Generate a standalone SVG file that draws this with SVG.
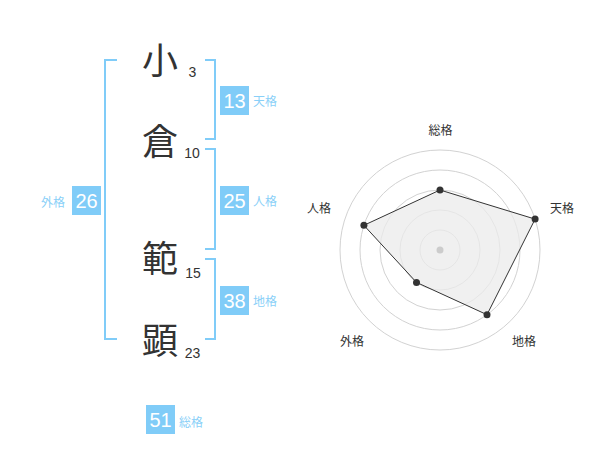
<svg xmlns="http://www.w3.org/2000/svg" width="600" height="470" viewBox="0 0 600 470">
<style>
.ch{font-family:"Noto Sans CJK JP","Noto Sans CJK SC",sans-serif;font-size:36px;fill:#333;text-anchor:middle}
.num{font-family:"Liberation Sans",Arial,sans-serif;font-size:14px;fill:#333;text-anchor:middle}
.br{fill:none;stroke:#80ccf8;stroke-width:2}
.box{fill:#80ccf8}
.bn{font-family:"Liberation Sans",Arial,sans-serif;font-size:20px;fill:#fff;text-anchor:middle}
.lb{font-family:"Noto Sans CJK JP","Noto Sans CJK SC",sans-serif;font-size:12px;fill:#8ad0f8}
.rl{font-family:"Noto Sans CJK JP","Noto Sans CJK SC",sans-serif;font-size:12px;fill:#333;text-anchor:middle}
.ring{fill:none;stroke:#d2d2d2;stroke-width:1}
.pt{fill:#333}
</style>
<rect width="600" height="470" fill="#fff"/>
<g id="chars">
<g id="c1"><text class="ch" x="160" y="74">小</text><text class="num" x="192.5" y="77">3</text></g>
<g id="c2"><text class="ch" x="160" y="155">倉</text><text class="num" x="192" y="158">10</text></g>
<g id="c3"><text class="ch" x="160" y="272">範</text><text class="num" x="193" y="278">15</text></g>
<g id="c4"><text class="ch" x="160" y="354">顕</text><text class="num" x="192.5" y="358">23</text></g>
</g>
<g id="connectors">
<path class="br" d="M117,60 H105 V339 H117"/>
<path class="br" d="M205,60 H215 V139 H205"/>
<path class="br" d="M205,149 H215 V249 H205"/>
<path class="br" d="M205,259 H215 V339 H205"/>
</g>
<g id="tenkaku"><rect class="box" x="220" y="86" width="29" height="29"/><text class="bn" x="234.5" y="108">13</text><text class="lb" x="253" y="106">天格</text></g>
<g id="jinkaku"><rect class="box" x="220" y="186" width="29" height="29"/><text class="bn" x="234.5" y="208">25</text><text class="lb" x="253" y="206">人格</text></g>
<g id="chikaku"><rect class="box" x="220" y="286" width="29" height="29"/><text class="bn" x="234.5" y="308">38</text><text class="lb" x="253" y="306">地格</text></g>
<g id="gaikaku"><rect class="box" x="72" y="186" width="29" height="29"/><text class="bn" x="86.5" y="208">26</text><text class="lb" x="65" y="207" text-anchor="end">外格</text></g>
<g id="soukaku"><rect class="box" x="146" y="405" width="29" height="29"/><text class="bn" x="160.5" y="427">51</text><text class="lb" x="179" y="427">総格</text></g>
<g id="radar">
<circle class="ring" cx="440" cy="250" r="20"/>
<circle class="ring" cx="440" cy="250" r="40"/>
<circle class="ring" cx="440" cy="250" r="60"/>
<circle class="ring" cx="440" cy="250" r="80"/>
<circle class="ring" cx="440" cy="250" r="100"/>
<polygon points="440,190 535.1,219.1 487,314.7 416.5,282.4 363.9,225.3" fill="#ebebeb" fill-opacity="0.75" stroke="#333" stroke-width="1"/>
<circle cx="440" cy="250" r="3.5" fill="#ccc"/>
<circle class="pt" cx="440" cy="190" r="3.5"/>
<circle class="pt" cx="535.1" cy="219.1" r="3.5"/>
<circle class="pt" cx="487" cy="314.7" r="3.5"/>
<circle class="pt" cx="416.5" cy="282.4" r="3.5"/>
<circle class="pt" cx="363.9" cy="225.3" r="3.5"/>
<text class="rl" x="440.5" y="135">総格</text>
<text class="rl" x="562" y="213">天格</text>
<text class="rl" x="524" y="345.5">地格</text>
<text class="rl" x="352" y="345.5">外格</text>
<text class="rl" x="319" y="213">人格</text>
</g>
</svg>
